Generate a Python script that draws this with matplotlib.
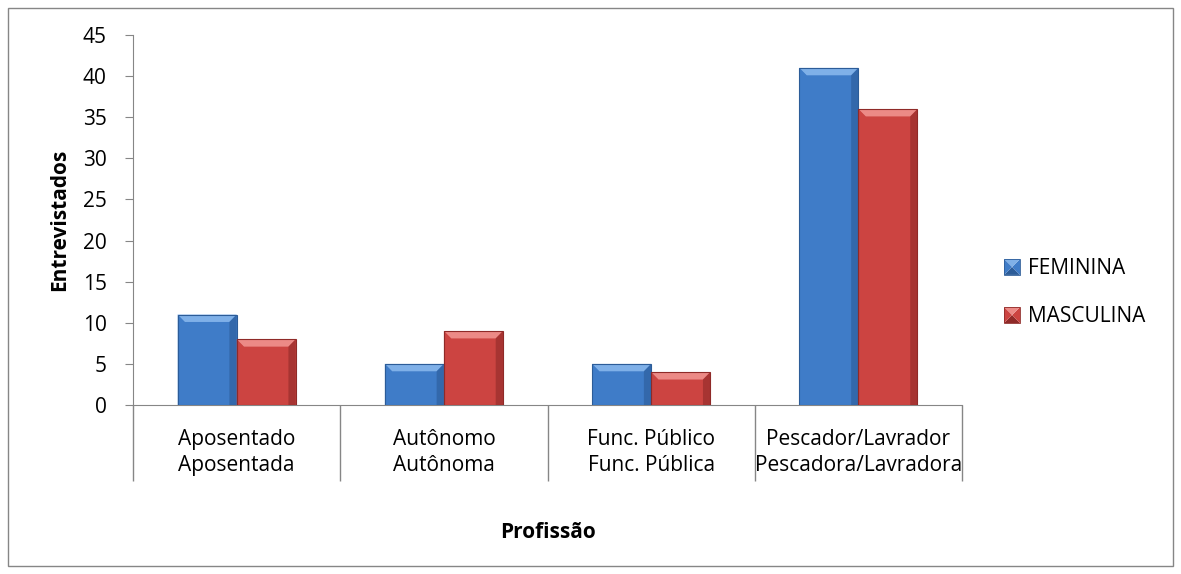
import matplotlib.pyplot as plt
from matplotlib.patches import Polygon, Rectangle
from matplotlib.legend_handler import HandlerBase
import numpy as np

plt.rcParams['font.family'] = ['Open Sans', 'DejaVu Sans']

# data
labels_m = ["Aposentado", "Autônomo", "Func. Público", "Pescador/Lavrador"]
labels_f = ["Aposentada", "Autônoma", "Func. Pública", "Pescadora/Lavradora"]
feminina = [11, 5, 5, 41]
masculina = [8, 9, 4, 36]
series = ["FEMININA", "MASCULINA"]

# colours: main, light (top), dark (edges)
blue = ("#3f7cc8", "#7fb0e8", "#2c5c98")
red = ("#cc4441", "#ec8a86", "#8f2a28")
grey = "#868686"


def bevel_bar(ax, x0, w, h, cols, bx=0.035, by=0.9):
    main, light, dark = cols
    ax.add_patch(Rectangle((x0, 0), w, h, facecolor=main, edgecolor='none', zorder=3))
    by = min(by, h / 3)
    # top bevel
    ax.add_patch(Polygon([(x0, h), (x0 + w, h), (x0 + w - bx, h - by), (x0 + bx, h - by)],
                         closed=True, facecolor=light, edgecolor='none', zorder=4))
    # left bevel
    ax.add_patch(Polygon([(x0, 0), (x0, h), (x0 + bx, h - by), (x0 + bx, 0)],
                         closed=True, facecolor=main, alpha=0.6, edgecolor='none', zorder=4))
    # right bevel
    ax.add_patch(Polygon([(x0 + w, 0), (x0 + w, h), (x0 + w - bx, h - by), (x0 + w - bx, 0)],
                         closed=True, facecolor=dark, alpha=0.6, edgecolor='none', zorder=4))
    ax.add_patch(Rectangle((x0, 0), w, h, facecolor='none', edgecolor=dark, lw=0.8, zorder=5))


class PyramidHandler(HandlerBase):
    def __init__(self, cols):
        super().__init__()
        self.cols = cols

    def create_artists(self, legend, orig_handle, xdescent, ydescent, width, height,
                       fontsize, trans):
        main, light, dark = self.cols
        s = min(width, height)
        x0 = -xdescent + (width - s) / 2
        y0 = -ydescent + (height - s) / 2
        c = (x0 + s / 2, y0 + s / 2)
        corners = [(x0, y0), (x0 + s, y0), (x0 + s, y0 + s), (x0, y0 + s)]
        shades = [dark, main, light, main]
        arts = []
        for k in range(4):
            p = Polygon([corners[k], corners[(k + 1) % 4], c], closed=True,
                        facecolor=shades[k], edgecolor='none', transform=trans)
            arts.append(p)
        arts.append(Rectangle((x0, y0), s, s, facecolor='none', edgecolor=dark,
                              lw=0.6, transform=trans))
        return arts


fig = plt.figure(figsize=(11.81, 5.74), dpi=100)
ax = fig.add_axes([0.1126, 0.2944, 0.702, 0.6446])

x = np.arange(len(labels_m))
bw = 0.285
for i in x:
    bevel_bar(ax, i - bw, bw, feminina[i], blue)
    bevel_bar(ax, i, bw, masculina[i], red)

ax.set_xlim(-0.5, len(x) - 0.5)
ax.set_ylim(0, 45)
ax.set_yticks(range(0, 46, 5))
ax.tick_params(axis='y', length=6, color=grey, labelsize=15, pad=13)

# category dividers as long ticks
ax.set_xticks(np.arange(-0.5, len(x), 1))
ax.set_xticklabels([])
ax.tick_params(axis='x', which='major', length=55, color=grey, width=1)
for i in x:
    ax.annotate(labels_m[i], (i, 0), xycoords=('data', 'axes fraction'),
                xytext=(0, -24.5), textcoords='offset points',
                ha='center', va='center', fontsize=15)
    ax.annotate(labels_f[i], (i, 0), xycoords=('data', 'axes fraction'),
                xytext=(0, -43.5), textcoords='offset points',
                ha='center', va='center', fontsize=15)

for s in ['top', 'right']:
    ax.spines[s].set_visible(False)
for s in ['left', 'bottom']:
    ax.spines[s].set_color(grey)

ax.set_ylabel("Entrevistados", fontsize=15, fontweight='bold', labelpad=9)
ax.set_xlabel("Profissão", fontsize=15, fontweight='bold', labelpad=26)

handles = [Rectangle((0, 0), 1, 1), Rectangle((0, 0), 1, 1)]
fig.legend(handles, series, loc='center left', bbox_to_anchor=(0.834, 0.49),
           frameon=False, fontsize=15, handlelength=0.8, handleheight=0.8,
           handletextpad=0.35, labelspacing=1.3,
           handler_map={handles[0]: PyramidHandler(blue), handles[1]: PyramidHandler(red)})

fig.add_artist(Rectangle((0.007, 0.014), 0.986, 0.972, transform=fig.transFigure,
                         facecolor='none', edgecolor=grey, lw=1))

fig.savefig("out.png", dpi=100)
